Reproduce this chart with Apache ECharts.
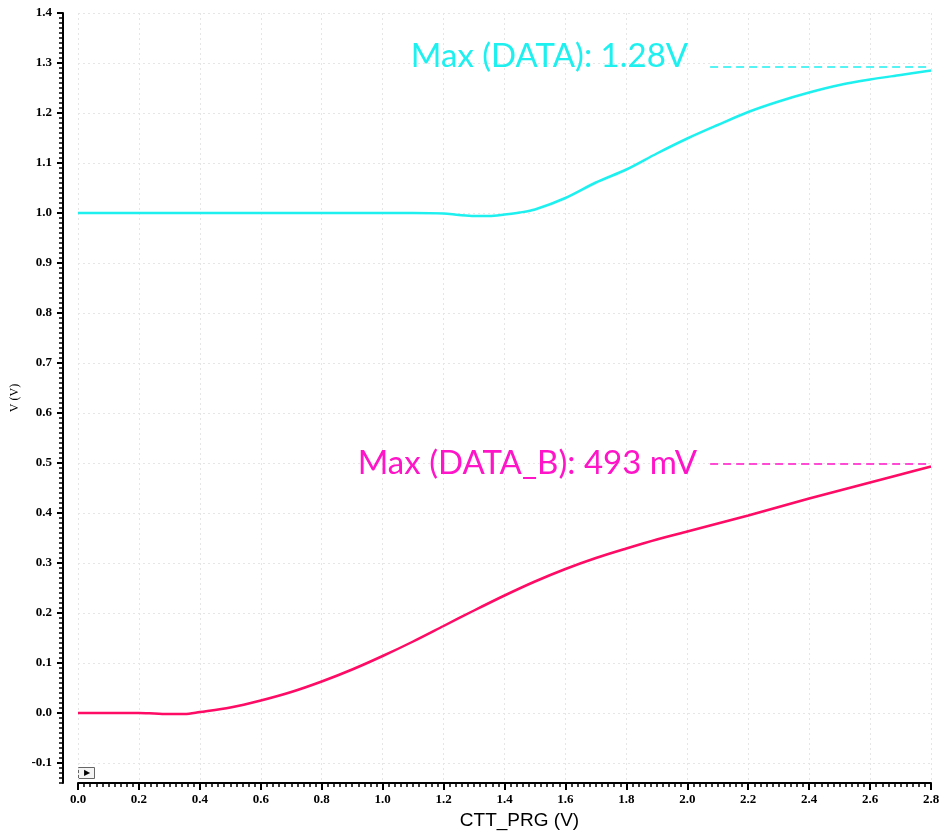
<!DOCTYPE html>
<html><head><meta charset="utf-8">
<script src="https://cdn.jsdelivr.net/npm/echarts@6/dist/echarts.min.js"></script>
<style>html,body{margin:0;padding:0;background:#fff}#c{width:945px;height:840px}</style>
</head><body><div id="c"></div>
<script>
// DATA (cyan) curve
const dataX  = [0, 0.2, 0.4, 0.6, 0.8, 1.0, 1.1, 1.2, 1.25, 1.3, 1.35, 1.4, 1.45, 1.5, 1.6, 1.7, 1.8, 1.9, 2.0, 2.1, 2.2, 2.3, 2.4, 2.5, 2.6, 2.7, 2.8];
const dataY  = [1.0, 1.0, 1.0, 1.0, 1.0, 1.0, 1.0, 0.999, 0.996, 0.994, 0.994, 0.997, 1.001, 1.007, 1.030, 1.061, 1.087, 1.119, 1.149, 1.176, 1.202, 1.223, 1.241, 1.256, 1.267, 1.276, 1.285];
// DATA_B (red/magenta) curve
const dataBX = [0, 0.1, 0.2, 0.25, 0.3, 0.35, 0.4, 0.5, 0.6, 0.7, 0.8, 0.9, 1.0, 1.1, 1.2, 1.3, 1.4, 1.5, 1.6, 1.7, 1.8, 1.9, 2.0, 2.1, 2.2, 2.3, 2.4, 2.5, 2.6, 2.7, 2.8];
const dataBY = [0, 0, 0, -0.001, -0.002, -0.002, 0.002, 0.011, 0.025, 0.042, 0.063, 0.087, 0.114, 0.143, 0.174, 0.205, 0.235, 0.263, 0.288, 0.310, 0.329, 0.347, 0.363, 0.379, 0.395, 0.412, 0.429, 0.445, 0.461, 0.477, 0.493];
// axis ticks
const xTicks = [0, 0.2, 0.4, 0.6, 0.8, 1.0, 1.2, 1.4, 1.6, 1.8, 2.0, 2.2, 2.4, 2.6, 2.8];
const yTicks = [-0.1, 0, 0.1, 0.2, 0.3, 0.4, 0.5, 0.6, 0.7, 0.8, 0.9, 1.0, 1.1, 1.2, 1.3, 1.4];
// max markers
const markerY = [1.293, 0.499];
const markerStartX = [2.075, 2.075];
const markerEndX = [2.8, 2.8];
const markerText = ['Max (DATA): 1.28V', 'Max (DATA_B): 493 mV'];

const zip = (xs, ys) => xs.map((x, i) => [x, ys[i]]);
const tickFont = {fontFamily: 'Liberation Serif', fontWeight: 'bold', fontSize: 13, color: '#000'};

const chart = echarts.init(document.getElementById('c'), null, {renderer: 'canvas'});

function marker(i, color, offsetY, dist) {
  return {
    markLine: {
      silent: true, symbol: ['none', 'none'],
      lineStyle: {color: color, type: [8, 5], width: 1.5},
      label: {show: false},
      data: [[{coord: [markerStartX[i], markerY[i]]}, {coord: [markerEndX[i], markerY[i]]}]]
    },
    markPoint: {
      silent: true, symbol: 'circle', symbolSize: 0,
      label: {show: true, position: 'left', distance: dist, offset: [0, offsetY],
        formatter: markerText[i], color: color, fontFamily: 'Lato', fontSize: 33},
      data: [{coord: [markerStartX[i], markerY[i]]}]
    }
  };
}

chart.setOption({
  animation: false,
  backgroundColor: '#fff',
  grid: {left: 78, right: 14, top: 13, bottom: 57},
  xAxis: [{
    type: 'value', min: 0, max: 2.8, interval: 0.2,
    name: 'CTT_PRG (V)', nameLocation: 'middle', nameGap: 25,
    nameTextStyle: {fontFamily: 'Liberation Sans', fontSize: 19, color: '#000', padding: [0, 0, 0, 30]},
    axisLine: {show: true, onZero: false, lineStyle: {color: '#000', width: 2}},
    axisTick: {show: true, length: 7, lineStyle: {color: '#000', width: 2}},
    minorTick: {show: true, splitNumber: 10, length: 4, lineStyle: {color: '#000', width: 1.5}},
    axisLabel: Object.assign({margin: 10, formatter: v => v.toFixed(1)}, tickFont),
    splitLine: {show: true, lineStyle: {color: '#e6e6e6', type: [2, 3], width: 1}},
    minorSplitLine: {show: false}
  }],
  yAxis: [{
    type: 'value', min: -0.14, max: 1.4, offset: 15,
    name: 'V (V)', nameLocation: 'middle', nameGap: 39,
    nameTextStyle: {fontFamily: 'Liberation Serif', fontSize: 12, color: '#000'},
    axisLine: {show: true, onZero: false, lineStyle: {color: '#000', width: 2}},
    axisTick: {show: true, length: 6, customValues: yTicks, lineStyle: {color: '#000', width: 2}},
    axisLabel: Object.assign({margin: 11, customValues: yTicks, formatter: v => v.toFixed(1)}, tickFont),
    splitLine: {show: true, customValues: yTicks, lineStyle: {color: '#e6e6e6', type: [2, 3], width: 1}}
  }, {
    type: 'value', min: -0.14, max: 1.4, interval: 0.01, offset: 15, position: 'left',
    axisLine: {show: false, onZero: false},
    axisTick: {show: true, length: 4, lineStyle: {color: '#000', width: 1.5}},
    axisLabel: {show: false},
    splitLine: {show: false}
  }],
  graphic: [{
    type: 'group', left: 78, top: 767,
    children: [
      {type: 'rect', shape: {x: 0, y: 0, width: 16, height: 11}, style: {fill: '#f4f4f4', stroke: '#666', lineWidth: 1}},
      {type: 'text', style: {x: 8, y: 5.5, text: '▶', fontSize: 8, fill: '#000', align: 'center', verticalAlign: 'middle'}}
    ]
  }],
  series: [
    Object.assign({
      name: 'DATA', type: 'line', xAxisIndex: 0, yAxisIndex: 0,
      data: zip(dataX, dataY), showSymbol: false, smooth: 0.3,
      lineStyle: {color: '#1ef0f0', width: 2.5}, itemStyle: {color: '#1ef0f0'}
    }, marker(0, '#1ef0f0', -10, 22)),
    Object.assign({
      name: 'DATA_B', type: 'line', xAxisIndex: 0, yAxisIndex: 0,
      data: zip(dataBX, dataBY), showSymbol: false, smooth: 0.3,
      lineStyle: {color: '#ff0a64', width: 2.5}, itemStyle: {color: '#ff0a64'}
    }, marker(1, '#ff14c8', 0, 13))
  ]
});
</script>
</body></html>
